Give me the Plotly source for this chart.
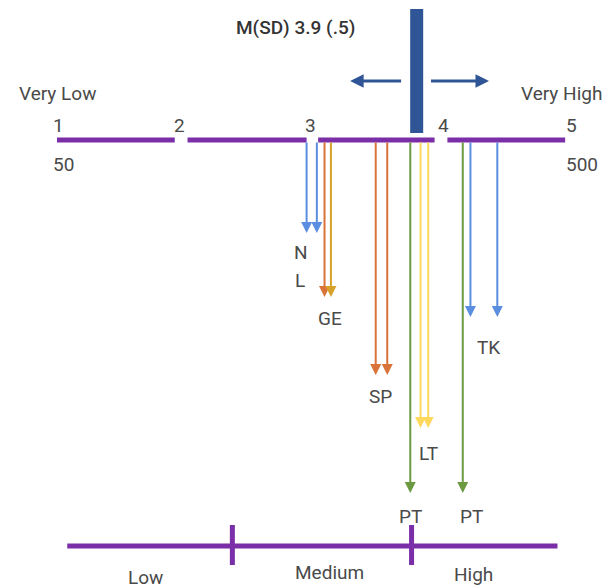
import plotly.graph_objects as go

# ---------------- data ----------------
scale_points = [1.01, 1.96, 2.98, 4.02, 5.02]
scale_labels = ["1", "2", "3", "4", "5"]
segment_start = [1.0, 2.02, 3.04, 4.05]
segment_end = [1.92, 2.95, 3.95, 4.97]

mean_value = 3.9
sd_value = 0.5
mean_pos = 3.81
spread_left = [3.70, 3.29]
spread_right = [3.91, 4.375]

end_labels = ["Very Low", "Very High"]
end_label_pos = [1.0, 4.94]
anchor_labels = ["50", "500"]
anchor_pos = [1.05, 5.10]

arrow_pos = [2.95, 3.03, 3.09, 3.14, 3.49, 3.58, 3.76, 3.84, 3.90, 4.17, 4.23, 4.44]
arrow_depth = [233, 233, 297, 297, 375, 375, 493, 428, 428, 493, 317, 317]
arrow_color_key = ["blue", "blue", "orange", "gold", "orange", "orange",
                   "green", "yellow", "yellow", "green", "blue", "blue"]

group_labels = ["N", "L", "GE", "SP", "LT", "TK", "PT", "PT"]
group_label_pos = [2.91, 2.90, 3.13, 3.53, 3.90, 4.37, 3.76, 4.24]
group_label_depth = [252, 280, 318, 396, 453, 347, 516, 516]

level_labels = ["Low", "Medium", "High"]
level_label_pos = [1.69, 3.13, 4.25]
level_label_depth = [577, 572, 574]
level_line = [1.08, 4.91]
level_ticks = [2.37, 3.77]

# ---------------- style ----------------
colors = {"blue": "#5b8ee0", "orange": "#d9733a", "gold": "#d6a22c",
          "green": "#6b9a41", "yellow": "#ffd95e"}
purple = "#7a2fa8"
navy = "#2f5597"
txt = "#4a4a4a"
font = "Roboto"

LINE_Y = 140
ARROW_Y = 81
BOTTOM_Y = 546
OFF = 8  # page body margin in px

fig = go.Figure()

# main scale segments
for s0, s1 in zip(segment_start, segment_end):
    fig.add_trace(go.Scatter(x=[s0, s1], y=[LINE_Y, LINE_Y], mode="lines",
                             line=dict(color=purple, width=5), hoverinfo="skip"))

# bottom level line
fig.add_trace(go.Scatter(x=level_line, y=[BOTTOM_Y, BOTTOM_Y], mode="lines",
                         line=dict(color=purple, width=5), hoverinfo="skip"))
for t in level_ticks:
    fig.add_trace(go.Scatter(x=[t, t], y=[525, 565], mode="lines",
                             line=dict(color=purple, width=5), hoverinfo="skip"))

# vertical arrows
for xp, d, ck in zip(arrow_pos, arrow_depth, arrow_color_key):
    fig.add_annotation(x=xp, y=d, ax=xp, ay=LINE_Y + 1, xref="x", yref="y",
                       axref="x", ayref="y", text="", showarrow=True,
                       arrowhead=2, arrowsize=1.1, arrowwidth=2,
                       arrowcolor=colors[ck])

# mean bar
fig.add_trace(go.Scatter(x=[mean_pos, mean_pos], y=[9, 133], mode="lines",
                         line=dict(color=navy, width=13), hoverinfo="skip"))

# spread arrows
for tail, tip in (spread_left, spread_right):
    fig.add_annotation(x=tip, y=ARROW_Y, ax=tail, ay=ARROW_Y,
                       xref="x", yref="y", axref="x", ayref="y", text="", showarrow=True,
                       arrowhead=2, arrowsize=0.9, arrowwidth=3, arrowcolor=navy)


def label(x, y, text, size=19, color=txt, weight=None):
    f = dict(family=font, size=size, color=color)
    if weight:
        f["weight"] = weight
    fig.add_annotation(x=x, y=y, xref="x", yref="y", text=text,
                       showarrow=False, font=f, xanchor="center", yanchor="middle")


label(2.86, 27, "M(SD) %.1f (.%d)" % (mean_value, round(sd_value * 10)),
      size=19, color="#333333", weight=500)

for xp, t in zip(scale_points, scale_labels):
    label(xp, 125, t)
for xp, t in zip(end_label_pos, end_labels):
    label(xp, 93, t)
for xp, t in zip(anchor_pos, anchor_labels):
    label(xp, 164, t)
for xp, d, t in zip(group_label_pos, group_label_depth, group_labels):
    label(xp, d, t)
for xp, d, t in zip(level_label_pos, level_label_depth, level_labels):
    label(xp, d, t)

fig.update_layout(
    width=613, height=588, margin=dict(l=0, r=0, t=0, b=0),
    paper_bgcolor="white", plot_bgcolor="white", showlegend=False,
    xaxis=dict(range=[1 + (OFF - 57) / 128, 1 + (613 + OFF - 57) / 128],
               visible=False, fixedrange=True),
    yaxis=dict(range=[588 + OFF, OFF], visible=False, fixedrange=True),
)

fig.write_html("out.html")
